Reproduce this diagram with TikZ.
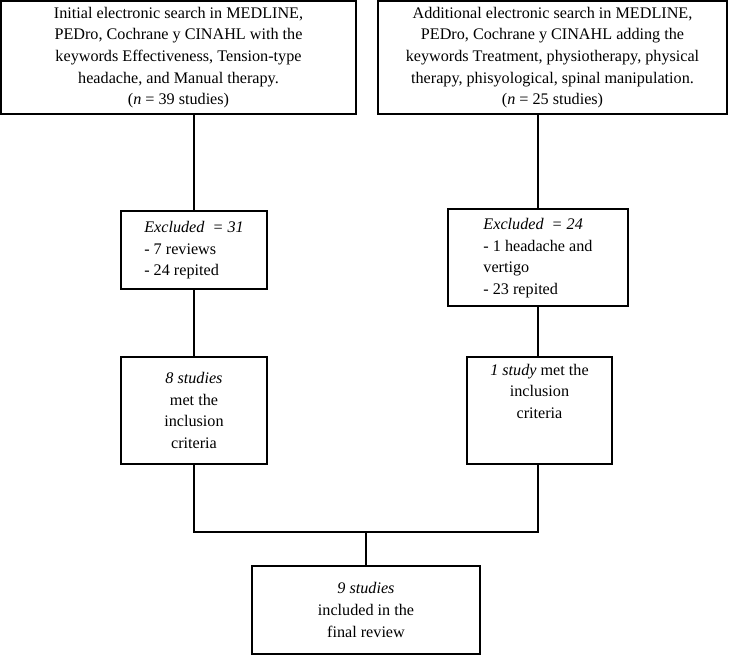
\documentclass[tikz,border=0pt]{standalone}
\usepackage{fontspec}
\setmainfont{Liberation Serif}
\usepackage{tikz}

\begin{document}
\begin{tikzpicture}[x=0.025cm,y=-0.025cm,
        box/.style={draw,line width=1.1pt,inner sep=0pt,align=center,font=\fontsize{11.5}{15.4}\selectfont},
        lbox/.style={box,align=left}]
        \useasboundingbox (0,0) rectangle (735,655);

        \node (search) [box,minimum width=355*0.025cm,minimum height=113*0.025cm] at (178.5,57.5)
            {Initial electronic search in MEDLINE,\\ PEDro, Cochrane y CINAHL with the\\ keywords Effectiveness, Tension-type\\ headache, and Manual therapy.\\ (\textit{n} = 39 studies)};
        \node (addsearch) [box,minimum width=349*0.025cm,minimum height=113*0.025cm] at (552.5,57.5)
            {Additional electronic search in MEDLINE,\\ PEDro, Cochrane y CINAHL adding the\\ keywords Treatment, physiotherapy, physical\\ therapy, phisyological, spinal manipulation.\\ (\textit{n} = 25 studies)};

        \node (exclA) [box,minimum width=146*0.025cm,minimum height=78*0.025cm] at (194,250)
            {\begin{tabular}{@{}l@{}}\textit{Excluded \ = 31}\\ - 7 reviews\\ - 24 repited\end{tabular}};
        \node (exclB) [box,minimum width=180*0.025cm,minimum height=97*0.025cm] at (538,257.5)
            {\begin{tabular}{@{}l@{}}\textit{Excluded \ = 24}\\ - 1 headache and\\ vertigo\\ - 23 repited\end{tabular}};

        \node (inclA) [box,minimum width=146*0.025cm,minimum height=107*0.025cm] at (194,410.5)
            {\textit{8 studies}\\ met the\\ inclusion\\ criteria};
        \node (inclB) [box,minimum width=145*0.025cm,minimum height=107*0.025cm] at (539.5,410.5)
            {\textit{1 study} met the\\ inclusion\\ criteria\\[12pt]};

        \node (final) [box,minimum width=228*0.025cm,minimum height=88*0.025cm] at (366,610)
            {\textit{9 studies}\\ included in the\\ final review};

        \coordinate (join) at (366,532);

        \draw[line width=1.1pt]
            (exclA.north |- search.south) -- (exclA.north)
            (exclB.north |- addsearch.south) -- (exclB.north)
            (exclA.south) -- (inclA.north)
            (exclB.south) -- (exclB.south |- inclB.north)
            (inclA.south) -- (inclA.south |- join) -- (exclB.south |- join) -- (exclB.south |- inclB.south)
            (join) -- (final.north);
\end{tikzpicture}
\end{document}
